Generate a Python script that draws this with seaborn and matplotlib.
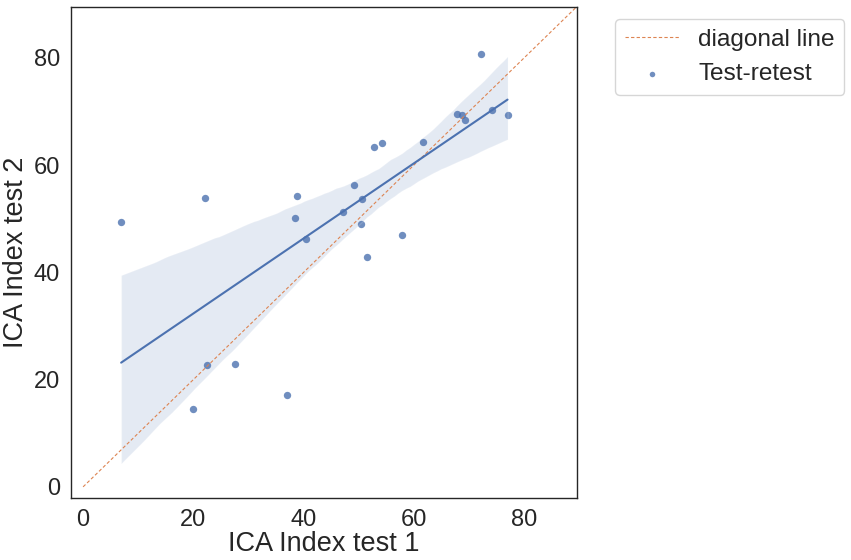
import numpy as np
import pandas as pd
import matplotlib
matplotlib.use("Agg")
import matplotlib.pyplot as plt
import seaborn as sns

test1 = [6.9, 22.2, 38.8, 38.5, 40.5, 47.1, 49.1, 50.6, 50.4, 51.5, 52.8, 54.2,
         57.9, 61.7, 67.8, 68.8, 69.2, 72.2, 74.1, 77.0, 22.5, 27.6, 20.0, 37.0]
test2 = [49.4, 53.8, 54.2, 50.2, 46.3, 51.2, 56.3, 53.6, 49.1, 42.8, 63.3, 64.1,
         47.0, 64.4, 69.6, 69.3, 68.5, 80.7, 70.2, 69.3, 22.7, 23.0, 14.6, 17.2]
diag = [0, 90]
ticks = [0, 20, 40, 60, 80]

df = pd.DataFrame({"ICA Index test 1": test1, "ICA Index test 2": test2})

sns.set_theme(style="white")
plt.rcParams['font.family'] = ['Liberation Sans', 'DejaVu Sans']

fig = plt.figure(figsize=(8.51, 5.6), dpi=100)
ax = fig.add_axes([0.0834, 0.111, 0.5946, 0.8765])

ax.plot(diag, diag, linestyle="--", color=sns.color_palette("deep")[1],
        linewidth=0.8, dashes=(3, 2), label="diagonal line")
sns.regplot(data=df, x="ICA Index test 1", y="ICA Index test 2", ax=ax,
            color=sns.color_palette("deep")[0], label="Test-retest", seed=1,
            scatter_kws={"s": 28, "linewidths": 0}, line_kws={"linewidth": 1.5})

ax.set_xlim(-2.2, 89.6)
ax.set_ylim(-2.05, 89.5)
ax.set_xticks(ticks)
ax.set_yticks(ticks)
ax.tick_params(labelsize=17, pad=2)
ax.set_xlabel("ICA Index test 1", fontsize=19.5, labelpad=0)
ax.set_ylabel("ICA Index test 2", fontsize=19.5, labelpad=3)
for s in ax.spines.values():
    s.set_color("0.15")
    s.set_linewidth(1.0)

ax.legend(loc="upper left", bbox_to_anchor=(0.7227, 0.966),
          bbox_transform=fig.transFigure, borderaxespad=0, fontsize=17.6,
          markerscale=0.75, handlelength=2.2)

fig.savefig("out.png", dpi=100)
